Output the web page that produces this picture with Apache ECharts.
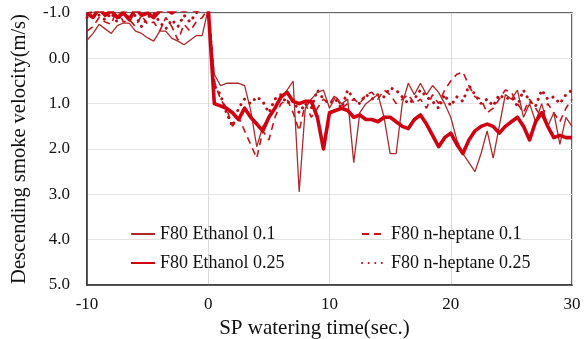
<!DOCTYPE html>
<html>
<head>
<meta charset="utf-8">
<script src="https://cdn.jsdelivr.net/npm/echarts@6/dist/echarts.min.js"></script>
<style>html,body{margin:0;padding:0;background:#fff}#c{width:585px;height:339px}</style>
</head>
<body>
<div id="c"></div>
<script>
var times = [-10,-9.5,-9,-8.5,-8,-7.5,-7,-6.5,-6,-5.5,-5,-4.5,-4,-3.5,-3,-2.5,-2,-1.5,-1,-0.5,
0,0.5,1,1.5,2,2.5,3,3.5,4,4.5,5,5.5,6,6.5,7,7.5,8,8.5,9,9.5,
10,10.5,11,11.5,12,12.5,13,13.5,14,14.5,15,15.5,16,16.5,17,17.5,18,18.5,19,19.5,
20,20.5,21,21.5,22,22.5,23,23.5,24,24.5,25,25.5,26,26.5,27,27.5,28,28.5,29,29.5,30];

var ethanol01 = [-0.4,-0.55,-0.75,-0.65,-0.55,-0.72,-0.78,-0.77,-0.6,-0.55,-0.45,-0.38,-0.6,-0.6,-0.44,-0.38,-0.3,-0.4,-0.5,-0.5,
-1.1,0.35,0.6,0.55,0.55,0.55,0.6,1.15,1.95,1.5,1.3,1.1,0.9,0.7,0.5,2.95,1.1,0.9,0.75,0.7,
1.1,0.85,1.0,0.9,2.3,1.2,1.0,0.9,0.8,1.3,2.1,2.1,1.0,0.55,0.8,0.55,0.8,0.6,0.75,1.0,
1.3,1.8,2.1,2.3,2.5,2.1,1.6,2.2,1.5,0.8,0.9,0.7,1.3,1.0,1.4,1.0,1.5,1.2,1.9,1.3,1.5];

var heptane01 = [-0.6,-0.7,-0.9,-0.8,-0.75,-1.1,-0.8,-0.85,-0.7,-0.95,-0.75,-0.8,-0.6,-0.9,-0.7,-0.4,-0.75,-0.6,-0.8,-0.9,
-1.1,0.5,0.9,1.1,1.5,1.3,1.6,1.9,2.2,1.6,1.8,1.3,1.0,0.9,1.2,1.6,1.0,1.3,1.1,0.9,
1.0,0.8,1.1,1.0,0.9,1.0,0.8,0.75,0.9,0.7,0.8,1.0,0.9,0.8,1.0,0.9,1.1,0.8,1.0,0.7,
0.5,0.35,0.3,0.6,0.85,0.9,1.2,1.1,0.9,0.7,0.75,1.0,1.2,0.9,1.1,1.3,1.0,1.2,1.4,1.1,0.9];

var ethanol025 = [-1.0,-0.9,-1.1,-0.95,-1.05,-0.9,-1.0,-0.85,-1.1,-0.95,-1.0,-0.9,-1.05,-1.1,-1.0,-1.1,-1.05,-1.1,-1.05,-1.1,
-1.1,1.0,1.05,1.1,1.2,1.35,1.1,1.3,1.45,1.6,1.3,1.1,0.85,0.75,0.95,1.0,0.95,0.95,1.3,2.0,
1.2,1.15,1.1,1.15,1.3,1.25,1.35,1.35,1.4,1.3,1.3,1.4,1.5,1.55,1.35,1.25,1.45,1.7,1.95,1.75,
1.65,1.9,2.1,1.8,1.6,1.5,1.45,1.5,1.65,1.5,1.4,1.3,1.5,1.8,1.4,1.2,1.5,1.75,1.7,1.75,1.75];

var heptane025 = [-0.9,-1.1,-0.95,-0.85,-1.0,-0.8,-1.1,-0.9,-0.95,-0.7,-0.9,-1.0,-0.8,-0.65,-0.85,-0.7,-0.95,-0.8,-1.0,-1.1,
-1.1,0.6,0.8,1.2,1.5,1.1,0.9,1.0,0.85,0.95,1.2,0.9,0.8,1.0,0.9,1.2,1.0,1.1,0.7,0.9,
1.0,0.9,1.1,0.7,0.9,1.0,0.8,0.9,0.8,0.85,0.65,0.7,0.85,1.0,0.9,0.7,0.85,0.95,1.1,0.8,
1.05,0.85,0.95,0.6,0.8,1.0,0.9,1.05,0.8,0.9,0.85,1.05,0.7,0.95,1.05,0.7,0.9,0.85,1.0,0.8,0.7];

var seriesNames = ['F80 Ethanol 0.1','F80 n-heptane 0.1','F80 Ethanol 0.25','F80 n-heptane 0.25'];
var yTicks = [-1,0,1,2,3,4,5];
var xTicks = [-10,0,10,20,30];

function pairs(vals){ return times.map(function(t,i){ return [t, vals[i]]; }); }

var FONT = '"Liberation Serif","Times New Roman",serif';
var chart = echarts.init(document.getElementById('c'), null, {renderer:'canvas'});
var legendCommon = {orient:'vertical', top:220, itemWidth:24, itemHeight:10, itemGap:11,
  itemStyle:{opacity:0}, textStyle:{fontFamily:FONT, fontSize:18, color:'#111'}, backgroundColor:'transparent'};
chart.setOption({
  animation:false,
  backgroundColor:'#fff',
  grid:{left:87, right:13, top:13, bottom:54, show:true, borderColor:'#333', borderWidth:1.5,
        backgroundColor:'transparent', outerBoundsMode:'none', containLabel:false},
  xAxis:{
    type:'value', min:xTicks[0], max:xTicks[xTicks.length-1], interval:10,
    name:'SP watering time(sec.)', nameLocation:'middle', nameGap:32,
    nameTextStyle:{fontFamily:FONT, fontSize:21, color:'#111', padding:[0,30,0,0]},
    axisLine:{show:true, onZero:false, lineStyle:{color:'#333', width:1.5}},
    axisTick:{show:false},
    axisLabel:{fontFamily:FONT, fontSize:17, color:'#111', margin:11},
    splitLine:{show:true, lineStyle:{color:'#d9d9d9', width:1}}
  },
  yAxis:{
    type:'value', inverse:true, min:yTicks[0], max:yTicks[yTicks.length-1], interval:1,
    name:'Descending smoke velocity(m/s)', nameLocation:'middle', nameGap:57, nameRotate:90,
    nameTextStyle:{fontFamily:FONT, fontSize:20.5, color:'#111'},
    axisLine:{show:true, onZero:false, lineStyle:{color:'#333', width:1.5}},
    axisTick:{show:false},
    axisLabel:{fontFamily:FONT, fontSize:17, color:'#111', margin:17, formatter:function(v){return v.toFixed(1);}},
    splitLine:{show:true, lineStyle:{color:'#e3e3e3', width:1}}
  },
  legend:[
    Object.assign({data:[seriesNames[0], seriesNames[2]], left:125}, legendCommon),
    Object.assign({data:[seriesNames[1], seriesNames[3]], left:356}, legendCommon)
  ],
  series:[
    {name:seriesNames[0], type:'line', data:pairs(ethanol01), symbol:'none', clip:true,
     lineStyle:{color:'#ad2a2a', width:1.3}, itemStyle:{color:'#ad2a2a'}, z:3},
    {name:seriesNames[1], type:'line', data:pairs(heptane01), symbol:'none', clip:true,
     lineStyle:{color:'#c8101a', width:1.6, type:[7,5]}, itemStyle:{color:'#c8101a'}, z:2},
    {name:seriesNames[2], type:'line', data:pairs(ethanol025), symbol:'none', clip:true,
     lineStyle:{color:'#d00010', width:3.6, join:'round'}, itemStyle:{color:'#d00010'}, z:4},
    {name:seriesNames[3], type:'line', data:pairs(heptane025), symbol:'none', clip:true,
     lineStyle:{color:'#b8101a', width:3, type:[0.1,6.5], cap:'round'}, itemStyle:{color:'#b8101a'}, z:1}
  ]
});
</script>
</body>
</html>
